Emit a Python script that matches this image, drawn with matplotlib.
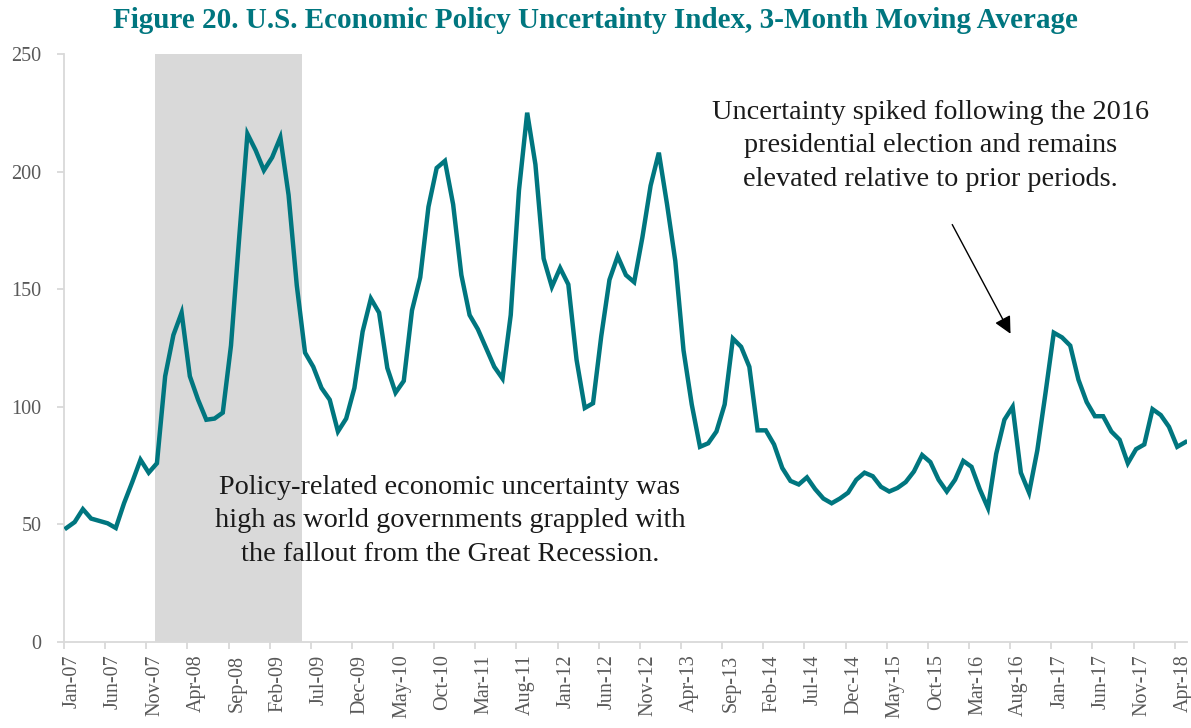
import pandas as pd
from matplotlib import pyplot as plt

# monthly values, Jan 2007 .. May 2018
epu_3mma = [
    48.5, 51, 56.5, 52.5, 51.5, 50.5, 48.5, 59, 68, 77.5, 72, 76,
    113, 130.5, 140, 113, 103, 94.5, 95, 97.5, 126, 172, 216, 209,
    200.5, 206, 214.5, 190, 151.5, 123, 117, 108, 103, 89.5, 95, 108,
    132, 146, 140, 116.5, 106, 111, 141, 155, 185, 201.5, 204.5, 186,
    156, 139, 133, 125, 117, 112, 139, 192, 225, 203, 163, 151,
    159, 152, 120, 99.5, 101.5, 130, 154, 164, 156, 153, 172, 194,
    208, 186, 162, 124, 101, 83, 84.5, 89.5, 101, 129, 125.5, 117,
    90, 90, 84, 74, 68.5, 67, 70, 65, 61, 59, 61, 63.5,
    69, 72, 70.5, 66, 64, 65.5, 68, 72.5, 79.5, 76.5, 69, 64,
    69, 77, 74.5, 65, 57, 80, 94.5, 100, 72, 63.5, 81.5, 106,
    131.5, 129.5, 126, 111.5, 102, 96, 96, 89.5, 86, 76, 82, 84,
    99, 96.5, 91.5, 83, 85,
]
months = pd.date_range("2007-01-01", periods=len(epu_3mma), freq="MS")
month_labels = [m.strftime("%b-%y") for m in months]
y_ticks = [0, 50, 100, 150, 200, 250]

# Great Recession shading, in month-index units
recession_start = 10.75
recession_end = 28.6

title = "Figure 20. U.S. Economic Policy Uncertainty Index, 3-Month Moving Average"
note_recession = ("Policy-related economic uncertainty was\n"
                  "high as world governments grappled with\n"
                  "the fallout from the Great Recession.")
note_election = ("Uncertainty spiked following the 2016\n"
                 "presidential election and remains\n"
                 "elevated relative to prior periods.")

teal = "#00767f"
axis_grey = "#d9d9d9"
label_grey = "#595959"

plt.rcParams["font.family"] = ["Liberation Serif", "DejaVu Serif"]

fig = plt.figure(figsize=(11.91, 7.28), dpi=100)
ax = fig.add_axes([0.0537, 0.118, 0.943, 0.808])

x = list(range(len(epu_3mma)))
ax.axvspan(recession_start, recession_end, ymin=0, ymax=1, color=axis_grey, lw=0, zorder=0)
ax.plot(x, epu_3mma, color=teal, lw=3.2, solid_joinstyle="miter", zorder=3)

ax.set_xlim(-0.3, len(epu_3mma) - 0.8)
ax.set_ylim(0, 250)

for side in ("top", "right"):
    ax.spines[side].set_visible(False)
for side in ("left", "bottom"):
    ax.spines[side].set_color(axis_grey)
    ax.spines[side].set_linewidth(1.3)

# tick marks sit just left of each labelled month, the labels just right of it
tick_idx = x[::5]
ax.set_xticks([i + 0.73 for i in tick_idx])
ax.set_xticklabels([month_labels[i] for i in tick_idx], rotation=90, fontsize=14.5, color=label_grey)
ax.set_xticks([i - 0.3 for i in tick_idx], minor=True)
ax.tick_params(axis="x", which="major", length=0, pad=9)
ax.tick_params(axis="x", which="minor", direction="out", length=5, width=1.3, color=axis_grey)

ax.set_yticks(y_ticks)
ax.set_yticklabels([str(v) for v in y_ticks], fontsize=14.5, color=label_grey)
ax.tick_params(axis="y", direction="out", length=5, width=1.3, color=axis_grey, pad=11)

ax.text(46.6, 51.5, note_recession, ha="center", va="center", fontsize=20.3,
        linespacing=1.43, color="#1a1a1a", zorder=4)
ax.text(105.0, 210.9, note_election, ha="center", va="center", fontsize=20.3,
        linespacing=1.43, color="#1a1a1a", zorder=4)
ax.annotate("", xy=(114.9, 130), xytext=(107.5, 178.5),
            arrowprops=dict(arrowstyle="-|>", mutation_scale=26, lw=1, color="black"))

fig.text(0.5, 0.9725, title, ha="center", va="center", fontsize=21,
         fontweight="bold", color=teal)

fig.savefig("out.png", dpi=100)
